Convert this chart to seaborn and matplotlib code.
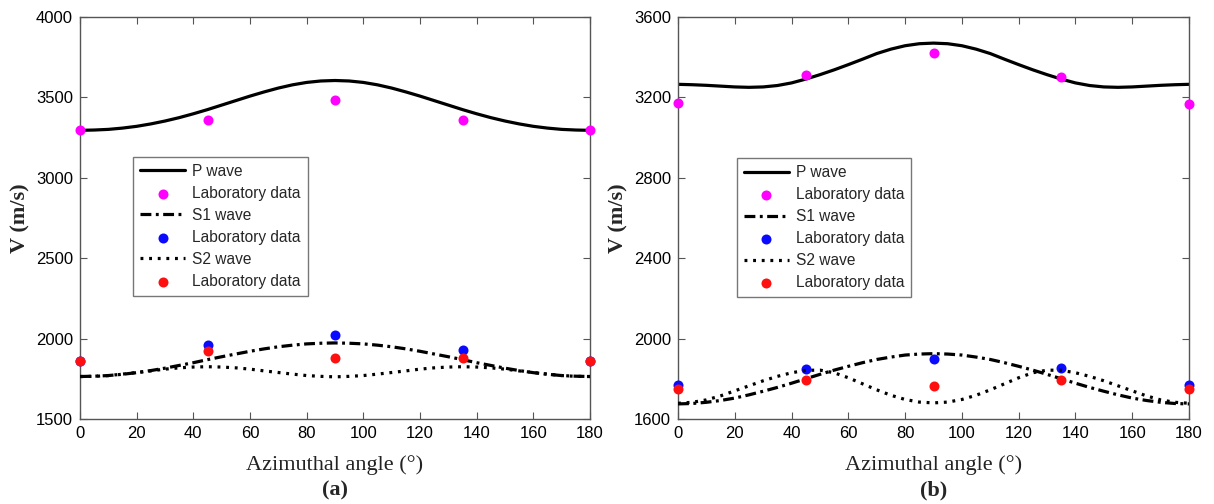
import matplotlib
matplotlib.use("Agg")
import matplotlib.pyplot as plt
import seaborn as sns

# Azimuth grid of the model curves (degrees)
theta = list(range(0, 181, 5))

# ---- Sample (a): modelled velocities (m/s)
p_wave_a = [3295, 3297, 3301, 3309, 3320, 3335, 3353, 3374, 3398, 3424,
            3452, 3480, 3508, 3534, 3558, 3578, 3593, 3602, 3605,
            3602, 3593, 3578, 3558, 3534, 3508, 3480, 3452, 3424, 3398,
            3374, 3353, 3335, 3320, 3309, 3301, 3297, 3295]
s1_wave_a = [1764, 1766, 1770, 1778, 1788, 1801, 1816, 1833, 1850, 1869,
             1887, 1904, 1921, 1936, 1949, 1959, 1967, 1971, 1973,
             1971, 1967, 1959, 1949, 1936, 1921, 1904, 1887, 1869, 1850,
             1833, 1816, 1801, 1788, 1778, 1770, 1766, 1764]
s2_wave_a = [1764, 1765, 1770, 1779, 1789, 1799, 1810, 1818, 1823, 1825,
             1823, 1818, 1810, 1799, 1789, 1779, 1770, 1765, 1762,
             1765, 1770, 1779, 1789, 1799, 1810, 1818, 1823, 1825, 1823,
             1818, 1810, 1799, 1789, 1779, 1770, 1765, 1764]

# ---- Sample (b): modelled velocities (m/s)
p_wave_b = [3265, 3263, 3260, 3256, 3252, 3250, 3252, 3259, 3272, 3291,
            3313, 3337, 3363, 3390, 3418, 3440, 3457, 3467, 3470,
            3467, 3457, 3440, 3418, 3390, 3363, 3337, 3313, 3291, 3272,
            3259, 3252, 3250, 3252, 3256, 3260, 3263, 3265]
s1_wave_b = [1675, 1677, 1683, 1692, 1704, 1720, 1738, 1757, 1778, 1800,
             1822, 1843, 1862, 1880, 1896, 1908, 1918, 1923, 1925,
             1923, 1918, 1908, 1896, 1880, 1862, 1843, 1822, 1800, 1778,
             1757, 1738, 1720, 1704, 1692, 1683, 1677, 1675]
s2_wave_b = [1678, 1683, 1695, 1715, 1740, 1765, 1790, 1812, 1830, 1842,
             1843, 1830, 1805, 1775, 1745, 1718, 1697, 1684, 1680,
             1684, 1697, 1718, 1745, 1775, 1805, 1830, 1843, 1842, 1830,
             1812, 1790, 1765, 1740, 1715, 1695, 1683, 1678]

# ---- Laboratory measurements
lab_angle = [0, 45, 90, 135, 180]
lab_p_a = [3295, 3362, 3486, 3360, 3295]
lab_s1_a = [1860, 1958, 2025, 1928, 1860]
lab_s2_a = [1860, 1922, 1877, 1881, 1860]
lab_p_b = [3172, 3312, 3423, 3303, 3168]
lab_s1_b = [1770, 1850, 1897, 1853, 1770]
lab_s2_b = [1747, 1795, 1763, 1792, 1747]

x_ticks = list(range(0, 181, 20))
y_ticks_a = [1500, 2000, 2500, 3000, 3500, 4000]
y_ticks_b = [1600, 2000, 2400, 2800, 3200, 3600]

sns.set_style("ticks")
plt.rcParams["font.family"] = ["Liberation Sans", "DejaVu Sans"]

MAGENTA = "#ff00ff"
BLUE = "#0a0aff"
RED = "#ff1010"
SPINE = "#555555"
DASHDOT = (0, (3.4, 1.4, 0.9, 1.4))
DOTTED = (0, (0.9, 1.8))


def draw_panel(ax, p, s1, s2, lp, ls1, ls2, yticks, tag, legend_anchor):
    lw = 2.3
    ms = 52
    sns.lineplot(x=theta, y=p, ax=ax, color="black", linewidth=lw,
                 label="P wave", zorder=2)
    sns.scatterplot(x=lab_angle, y=lp, ax=ax, color=MAGENTA, s=ms,
                    linewidth=0, label="Laboratory data", zorder=3,
                    clip_on=False)
    sns.lineplot(x=theta, y=s1, ax=ax, color="black", linewidth=lw,
                 label="S1 wave", zorder=4)
    ax.lines[-1].set_linestyle(DASHDOT)
    sns.scatterplot(x=lab_angle, y=ls1, ax=ax, color=BLUE, s=ms,
                    linewidth=0, label="Laboratory data", zorder=5,
                    clip_on=False)
    sns.lineplot(x=theta, y=s2, ax=ax, color="black", linewidth=lw,
                 label="S2 wave", zorder=6)
    ax.lines[-1].set_linestyle(DOTTED)
    sns.scatterplot(x=lab_angle, y=ls2, ax=ax, color=RED, s=ms,
                    linewidth=0, label="Laboratory data", zorder=7,
                    clip_on=False)

    ax.set_xlim(0, 180)
    ax.set_ylim(yticks[0], yticks[-1])
    ax.set_xticks(x_ticks)
    ax.set_yticks(yticks)
    ax.tick_params(direction="in", length=5, width=0.8, color=SPINE,
                   top=True, right=True, labelsize=12, pad=5,
                   labelcolor="black")
    for sp in ax.spines.values():
        sp.set_visible(True)
        sp.set_color(SPINE)
        sp.set_linewidth(1.0)

    ax.set_xlabel("Azimuthal angle (°)", family="Liberation Serif",
                  fontsize=16, color="#222222", labelpad=10)
    ax.set_ylabel("V (m/s)", family="Liberation Serif", fontsize=16,
                  fontweight="bold", labelpad=4)
    ax.text(0.5, -0.178, tag, transform=ax.transAxes, ha="center",
            va="center", family="Liberation Serif", fontsize=16,
            fontweight="bold")

    handles, labels = ax.get_legend_handles_labels()
    leg = ax.legend(handles, labels, loc="upper left",
                    bbox_to_anchor=legend_anchor, borderaxespad=0,
                    fontsize=11.2, frameon=True, fancybox=False,
                    edgecolor=SPINE, handlelength=2.9, handletextpad=0.45,
                    labelspacing=0.45, borderpad=0.45, markerscale=1.0)
    leg.get_frame().set_linewidth(1.0)


fig = plt.figure(figsize=(12.14, 5.04), dpi=100)
ax_a = fig.add_axes([0.0659, 0.1687, 0.4201, 0.7976])
ax_b = fig.add_axes([0.5585, 0.1687, 0.4209, 0.7976])

draw_panel(ax_a, p_wave_a, s1_wave_a, s2_wave_a, lab_p_a, lab_s1_a,
           lab_s2_a, y_ticks_a, "(a)", (0.104, 0.652))
draw_panel(ax_b, p_wave_b, s1_wave_b, s2_wave_b, lab_p_b, lab_s1_b,
           lab_s2_b, y_ticks_b, "(b)", (0.115, 0.649))

fig.savefig("out.png", dpi=100, facecolor="white")
